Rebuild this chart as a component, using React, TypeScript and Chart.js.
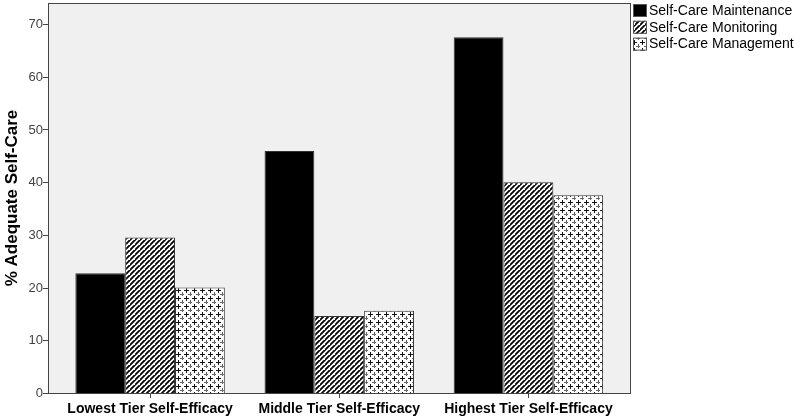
import React, { useEffect, useRef } from "react";
import { Chart, registerables } from "chart.js";
Chart.register(...registerables);

const categories = ["Lowest Tier Self-Efficacy", "Middle Tier Self-Efficacy", "Highest Tier Self-Efficacy"];
const seriesNames = ["Self-Care Maintenance", "Self-Care Monitoring", "Self-Care Management"];
const maintenance = [22.7, 45.9, 67.5];
const monitoring = [29.5, 14.6, 40.0];
const management = [20.0, 15.6, 37.5];
const yTicks = [0, 10, 20, 30, 40, 50, 60, 70];

const FONT = "'Liberation Sans', Arial, Helvetica, sans-serif";

function makeHatch(): CanvasPattern | string {
  const c = document.createElement("canvas");
  const s = 5;
  c.width = s; c.height = s;
  const g = c.getContext("2d")!;
  g.fillStyle = "#fff";
  g.fillRect(0, 0, s, s);
  g.strokeStyle = "#000";
  g.lineWidth = 1.8;
  g.beginPath();
  g.moveTo(-1, s + 1); g.lineTo(s + 1, -1);
  g.moveTo(-1 - s, s + 1); g.lineTo(1, -1);
  g.moveTo(s - 1, 2 * s + 1); g.lineTo(2 * s + 1, s - 1);
  g.stroke();
  return g.createPattern(c, "repeat") || "#888";
}

function makeCross(): CanvasPattern | string {
  const c = document.createElement("canvas");
  const s = 8;
  c.width = s; c.height = s;
  const g = c.getContext("2d")!;
  g.fillStyle = "#fff";
  g.fillRect(0, 0, s, s);
  g.fillStyle = "#111";
  const plus = (x: number, y: number) => {
    g.fillRect(x - 2, y, 5, 1);
    g.fillRect(x, y - 2, 1, 5);
  };
  plus(2, 2);
  g.fillStyle = "#666";
  plus(6, 6);
  return g.createPattern(c, "repeat") || "#ccc";
}

// frame extends beyond the category area by these margins
const FRAME_LEFT_EXTRA = 7.5;
const FRAME_RIGHT_EXTRA = 8;

export default function App() {
  const ref = useRef<HTMLCanvasElement>(null);
  useEffect(() => {
    document.body.style.margin = "0";
    const hatch = makeHatch();
    const cross = makeCross();
    const fills = ["#000", hatch, cross];

    const frame = {
      id: "frame",
      beforeDatasetsDraw(chart: any) {
        const { ctx, chartArea: a } = chart;
        const L = a.left - FRAME_LEFT_EXTRA;
        const R = a.right + FRAME_RIGHT_EXTRA;
        ctx.save();
        ctx.fillStyle = "#f0f0f0";
        ctx.fillRect(L, a.top, R - L, a.bottom - a.top);
        ctx.restore();
      },
      afterDatasetsDraw(chart: any) {
        const { ctx, chartArea: a } = chart;
        const L = Math.round(a.left - FRAME_LEFT_EXTRA);
        const R = Math.round(a.right + FRAME_RIGHT_EXTRA);
        ctx.save();
        ctx.strokeStyle = "#444";
        ctx.lineWidth = 1;
        ctx.strokeRect(L + 0.5, Math.round(a.top) + 0.5, R - L - 1, Math.round(a.bottom - a.top));
        // y tick marks and labels
        const ys = chart.scales.y;
        ctx.beginPath();
        yTicks.forEach((v) => {
          const y = Math.round(ys.getPixelForValue(v)) + 0.5;
          ctx.moveTo(L - 5, y);
          ctx.lineTo(L, y);
        });
        ctx.stroke();
        ctx.fillStyle = "#444";
        ctx.font = `13px ${FONT}`;
        ctx.textAlign = "right";
        ctx.textBaseline = "middle";
        yTicks.forEach((v) => {
          ctx.fillText(String(v), L - 5, ys.getPixelForValue(v) + 0.5);
        });
        // legend
        ctx.font = `14px ${FONT}`;
        ctx.textBaseline = "middle";
        ctx.textAlign = "left";
        chart.data.datasets.forEach((ds: any, i: number) => {
          const x = R + 2;
          const y = 4 + i * 16.8;
          ctx.fillStyle = ds.backgroundColor;
          ctx.fillRect(x, y, 14, 13);
          ctx.strokeStyle = "#555";
          ctx.strokeRect(x + 0.5, y + 0.5, 13, 12);
          ctx.fillStyle = "#000";
          ctx.fillText(ds.label, x + 16, y + 7);
        });
        ctx.restore();
      },
    };

    const chart = new Chart(ref.current!, {
      type: "bar",
      data: {
        labels: categories,
        datasets: [
          { label: seriesNames[0], data: maintenance, backgroundColor: fills[0] as any, borderColor: "#333", borderWidth: 1 },
          { label: seriesNames[1], data: monitoring, backgroundColor: fills[1] as any, borderColor: "#333", borderWidth: 1 },
          { label: seriesNames[2], data: management, backgroundColor: fills[2] as any, borderColor: "#333", borderWidth: 1 },
        ],
      },
      options: {
        animation: false,
        responsive: false,
        layout: { padding: { top: 3, right: 177, left: 2, bottom: 0 } },
        datasets: { bar: { categoryPercentage: 0.79, barPercentage: 1.0 } },
        plugins: { legend: { display: false }, tooltip: { enabled: false } },
        scales: {
          x: {
            grid: { display: true, drawOnChartArea: false, offset: false, tickLength: 5, color: "#444" },
            border: { display: false },
            ticks: { color: "#000", font: { family: FONT, size: 14, weight: "bold" }, padding: 3, maxRotation: 0 },
            afterFit: (s: any) => { s.height = 27; },
          },
          y: {
            min: 0,
            max: 74,
            afterBuildTicks: (s: any) => { s.ticks = yTicks.map((v) => ({ value: v })); },
            grid: { display: false },
            border: { display: false },
            ticks: { display: false },
            title: { display: true, text: "% Adequate Self-Care", color: "#000", font: { family: FONT, size: 17, weight: "bold" }, padding: { top: 0, bottom: 0 } },
            afterFit: (s: any) => { s.width = 53.5; },
          },
        },
      },
      plugins: [frame],
    });
    return () => chart.destroy();
  }, []);
  return (
    <div style={{ position: "fixed", left: 0, top: 0, width: 800, height: 420, background: "#fff" }}>
      <canvas ref={ref} width={800} height={420} style={{ display: "block" }} />
    </div>
  );
}
